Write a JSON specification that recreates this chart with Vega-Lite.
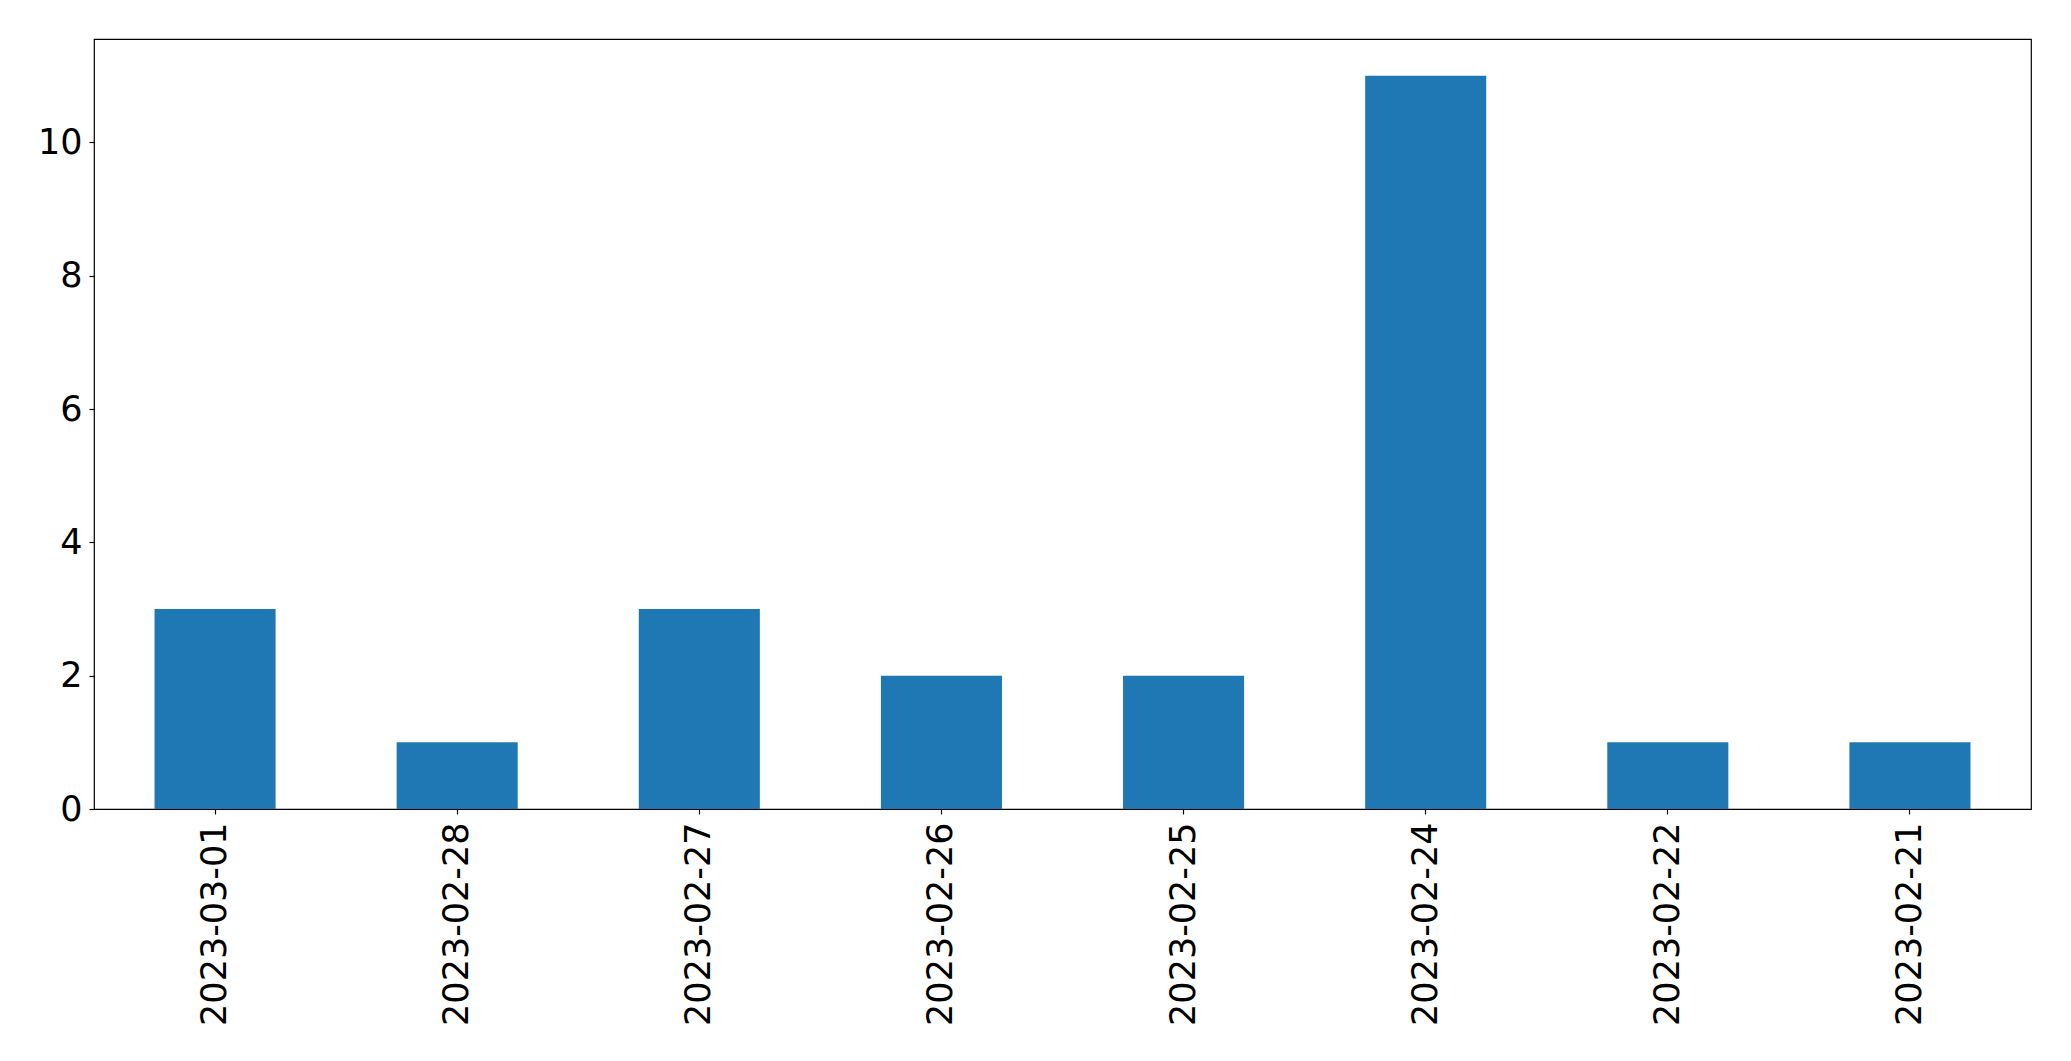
{
  "$schema": "https://vega.github.io/schema/vega-lite/v6.json",
  "autosize": {"type": "none"},
  "padding": {"left": 94, "top": 39, "right": 40, "bottom": 252},
  "width": 1937,
  "height": 770,
  "background": "white",
  "config": {
    "view": {"stroke": "black", "strokeWidth": 1.2},
    "font": "DejaVu Sans"
  },
  "data": {
    "values": [
      {"date": "2023-03-01", "count": 3},
      {"date": "2023-02-28", "count": 1},
      {"date": "2023-02-27", "count": 3},
      {"date": "2023-02-26", "count": 2},
      {"date": "2023-02-25", "count": 2},
      {"date": "2023-02-24", "count": 11},
      {"date": "2023-02-22", "count": 1},
      {"date": "2023-02-21", "count": 1}
    ]
  },
  "mark": {"type": "bar", "color": "#1f77b4"},
  "encoding": {
    "x": {
      "field": "date",
      "type": "nominal",
      "sort": null,
      "title": null,
      "scale": {"paddingInner": 0.5, "paddingOuter": 0.25},
      "axis": {
        "domain": false,
        "labelAngle": -90,
        "labelFontSize": 35,
        "labelLimit": 1000,
        "labelColor": "black",
        "labelFont": "DejaVu Sans",
        "labelPadding": 8,
        "tickSize": 5,
        "tickColor": "black",
        "tickWidth": 1.2,
        "grid": false
      }
    },
    "y": {
      "field": "count",
      "type": "quantitative",
      "title": null,
      "scale": {"domain": [0, 11.55], "nice": false, "zero": true},
      "axis": {
        "domain": false,
        "values": [0, 2, 4, 6, 8, 10],
        "labelFontSize": 35,
        "labelColor": "black",
        "labelFont": "DejaVu Sans",
        "labelPadding": 7,
        "tickSize": 5,
        "tickColor": "black",
        "tickWidth": 1.2,
        "grid": false
      }
    }
  }
}
